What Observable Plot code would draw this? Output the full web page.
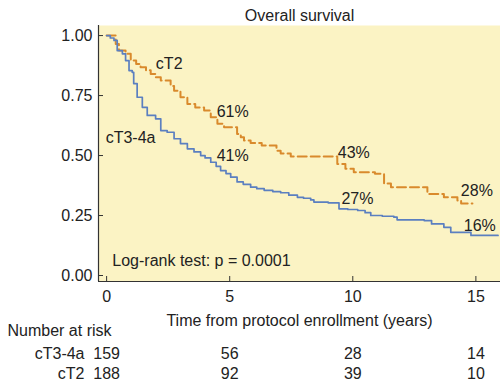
<!DOCTYPE html>
<html><head><meta charset="utf-8">
<script src="https://cdn.jsdelivr.net/npm/d3@7"></script>
<script src="https://cdn.jsdelivr.net/npm/@observablehq/plot@0.6"></script>
<style>body{margin:0;background:#fff}</style>
</head><body><div id="chart"></div>
<script>
// Kaplan-Meier estimates (step-after)
const cT34aTime = [0, 0.15, 0.3, 0.43, 0.64, 0.77, 0.91, 1.04, 1.1, 1.24, 1.45, 1.65, 1.99, 2.2, 2.46, 2.74, 3.0, 3.28, 3.55, 3.82, 4.0, 4.23, 4.45, 4.63, 4.85, 5.04, 5.3, 5.55, 5.85, 6.1, 6.4, 6.75, 7.07, 7.4, 7.75, 8.0, 8.29, 8.42, 9.0, 9.44, 9.8, 10.2, 10.5, 10.73, 11.2, 11.67, 11.8, 12.9, 13.2, 13.7, 13.98, 14.8, 15.9];
const cT34aSurv = [1, 0.99, 0.98, 0.9375, 0.924, 0.896, 0.854, 0.847, 0.8, 0.743, 0.701, 0.667, 0.653, 0.604, 0.597, 0.57, 0.55, 0.528, 0.515, 0.5, 0.49, 0.472, 0.455, 0.4375, 0.425, 0.41, 0.39, 0.38, 0.368, 0.362, 0.355, 0.35, 0.345, 0.335, 0.326, 0.322, 0.315, 0.306, 0.303, 0.278, 0.275, 0.271, 0.262, 0.25, 0.247, 0.243, 0.232, 0.229, 0.215, 0.201, 0.18, 0.167, 0.167];
const cT2Time = [0, 0.37, 0.5, 0.77, 0.98, 1.2, 1.38, 1.6, 1.79, 2.0, 2.2, 2.6, 2.74, 3.0, 3.28, 3.6, 3.96, 4.23, 4.5, 4.77, 5.3, 5.45, 5.58, 5.85, 6.3, 6.9, 7.07, 7.48, 9.37, 9.7, 10.04, 10.9, 11.27, 11.55, 13.03, 13.7, 14.25, 14.4, 14.86];
const cT2Surv = [1, 0.965, 0.9375, 0.924, 0.896, 0.882, 0.868, 0.855, 0.84, 0.826, 0.8125, 0.79, 0.77, 0.743, 0.715, 0.70, 0.6875, 0.66, 0.632, 0.618, 0.59, 0.576, 0.5625, 0.552, 0.542, 0.52, 0.508, 0.496, 0.465, 0.445, 0.43, 0.424, 0.383, 0.368, 0.34, 0.326, 0.3125, 0.30, 0.30];

// annotations
const labelText = ["cT2", "cT3-4a", "61%", "41%", "43%", "27%", "28%", "16%", "Log-rank test: p = 0.0001"];
const labelTime = [2.0, -0.04, 4.47, 4.47, 9.39, 9.54, 14.39, 14.51, 0.23];
const labelSurv = [0.883, 0.575, 0.68, 0.5, 0.5125, 0.32, 0.351, 0.208, 0.06];

// axes
const xTicks = [0, 5, 10, 15];
const yTicks = [0, 0.25, 0.5, 0.75, 1];
const xDomain = [-0.33, 16.0];
const yDomain = [-0.025, 1.042];

// number at risk
const riskGroups = ["cT3-4a", "cT2"];
const riskTimes = [0, 5, 10, 15];
const riskCT34a = [159, 56, 28, 14];
const riskCT2 = [188, 92, 39, 10];

const blue = cT34aTime.map((t, i) => ({t, s: cT34aSurv[i]}));
const orange = cT2Time.map((t, i) => ({t, s: cT2Surv[i]}));
const labels = labelText.map((text, i) => ({text, t: labelTime[i], s: labelSurv[i]}));

const ink = "#222";
const chart = Plot.plot({
  width: 500, height: 388,
  marginLeft: 98, marginRight: 0, marginTop: 25, marginBottom: 107,
  style: {fontFamily: "'Liberation Sans', Arial, sans-serif", fontSize: "16px", color: ink, background: "#fff", overflow: "visible"},
  x: {domain: xDomain},
  y: {domain: yDomain},
  marks: [
    Plot.frame({fill: "#fbf3c4", stroke: null}),
    Plot.ruleX([xDomain[0]], {stroke: "#333", strokeWidth: 1.2}),
    Plot.ruleY([yDomain[0]], {stroke: "#333", strokeWidth: 1.2}),
    Plot.axisY(yTicks, {tickSize: -5, tickPadding: 11, tickFormat: d3.format(".2f"), fontSize: 16, label: null, stroke: "#333"}),
    Plot.axisX(xTicks, {tickSize: -5, tickPadding: 14, fontSize: 16, label: null, stroke: "#333"}),
    Plot.line(orange, {x: "t", y: "s", curve: "step-after", stroke: "#d98a2c", strokeWidth: 2, strokeDasharray: "9,4"}),
    Plot.line(blue, {x: "t", y: "s", curve: "step-after", stroke: "#5b7fc0", strokeWidth: 1.7}),
    Plot.text(labels, {x: "t", y: "s", text: "text", textAnchor: "start", lineAnchor: "middle", fontSize: 16, fill: ink}),
    Plot.text(["Overall survival"], {frameAnchor: "top", dy: -10, lineAnchor: "middle", fontSize: 16, fill: ink}),
    Plot.text(["Time from protocol enrollment (years)"], {frameAnchor: "bottom", dy: 39, lineAnchor: "middle", fontSize: 16, fill: ink}),
    Plot.text(["Number at risk"], {frameAnchor: "bottom-left", dx: -91, dy: 49, textAnchor: "start", lineAnchor: "middle", fontSize: 16, fill: ink}),
    Plot.text(riskGroups, {frameAnchor: "bottom-left", dx: -14, dy: (d, i) => 0, textAnchor: "end", lineAnchor: "middle", fontSize: 16, fill: ink, filter: (d, i) => i === 0, dy: 72}),
    Plot.text(riskGroups, {frameAnchor: "bottom-left", dx: -14, textAnchor: "end", lineAnchor: "middle", fontSize: 16, fill: ink, filter: (d, i) => i === 1, dy: 92}),
    Plot.text(riskTimes, {x: d => d, text: (d, i) => String(riskCT34a[i]), frameAnchor: "bottom", dy: 72, lineAnchor: "middle", fontSize: 16, fill: ink}),
    Plot.text(riskTimes, {x: d => d, text: (d, i) => String(riskCT2[i]), frameAnchor: "bottom", dy: 92, lineAnchor: "middle", fontSize: 16, fill: ink})
  ]
});
document.getElementById("chart").append(chart);
</script>
</body></html>
